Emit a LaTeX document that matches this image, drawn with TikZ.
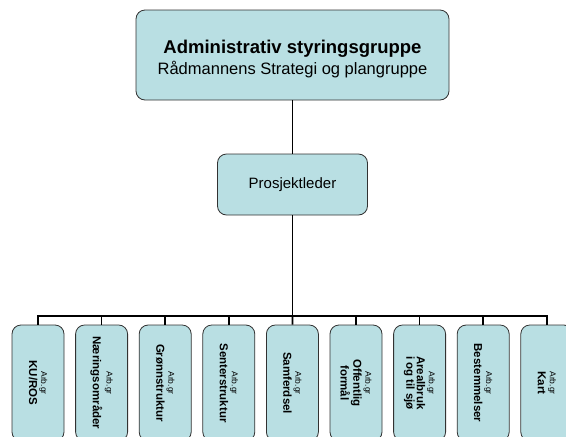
\documentclass[tikz,border=0pt]{standalone}
\usepackage{fontspec}
\setmainfont{Liberation Sans}
\usetikzlibrary{positioning}
\definecolor{boxfill}{RGB}{185,223,227}
\definecolor{boxline}{RGB}{50,50,50}
\newcommand{\arbgr}{{\fontsize{8.5}{9}\selectfont\mdseries Arb.gr}}

\begin{document}
\begin{tikzpicture}[
        x=1pt, y=-1pt,
        box/.style={draw=boxline, fill=boxfill, line width=0.8pt, rounded corners=9pt},
        wgbox/.style={
            box, rotate=-90,
            minimum width=116pt, minimum height=52pt, inner sep=0pt,
            align=center, font=\fontsize{11.5}{10.5}\selectfont\bfseries
        },
        conn/.style={-, line width=1.7pt, black}
    ]
    \useasboundingbox (0,0) rectangle (566,437);
    \clip (0,0) rectangle (566,437);

    % styringsgruppe og prosjektleder
    \node (styring) at (292.5,55) [box, minimum width=313pt, minimum height=90pt]
        {\raisebox{-4pt}[\height][\depth]{\begin{tabular}{@{}c@{}}
            {\fontsize{18.5}{22}\selectfont\bfseries Administrativ styringsgruppe}\\[4pt]
            {\fontsize{16.5}{20}\selectfont Rådmannens Strategi og plangruppe}
        \end{tabular}}};
    \node (leder) at (292.5,184.5) [box, minimum width=150pt, minimum height=61pt,
        font=\fontsize{15}{18}\selectfont] {Prosjektleder};
    \coordinate (bus) at (292.5,316);

    % arbeidsgrupper
    \node (kuros)   at (38,383)    [wgbox] {\arbgr\\[1.5pt]KU/ROS};
    \node (naering) at (101.6,383) [wgbox] {\arbgr\\[1.5pt]Næringsområder};
    \node (gronn)   at (165.2,383) [wgbox] {\arbgr\\[1.5pt]Grønnstruktur};
    \node (senter)  at (228.8,383) [wgbox] {\arbgr\\[1.5pt]Senterstruktur};
    \node (samf)    at (292.4,383) [wgbox] {\arbgr\\[1.5pt]Samferdsel};
    \node (offentl) at (356,383)   [wgbox] {\arbgr\\[1.5pt]Offentlig\\formål};
    \node (areal)   at (419.6,383) [wgbox] {\arbgr\\[1.5pt]Arealbruk\\i og til sjø};
    \node (bestem)  at (483.2,383) [wgbox] {\arbgr\\[1.5pt]Bestemmelser};
    \node (kart)    at (546.8,383) [wgbox] {\arbgr\\[1.5pt]Kart};

    % linjer
    \draw[conn] (styring) -- (leder);
    \draw[conn] (leder) -- (bus);
    \draw[conn] (bus) -| (kuros.west);
    \draw[conn] (bus) -| (naering.west);
    \draw[conn] (bus) -| (gronn.west);
    \draw[conn] (bus) -| (senter.west);
    \draw[conn] (bus) -- (samf.west);
    \draw[conn] (bus) -| (offentl.west);
    \draw[conn] (bus) -| (areal.west);
    \draw[conn] (bus) -| (bestem.west);
    \draw[conn] (bus) -| (kart.west);
\end{tikzpicture}
\end{document}
